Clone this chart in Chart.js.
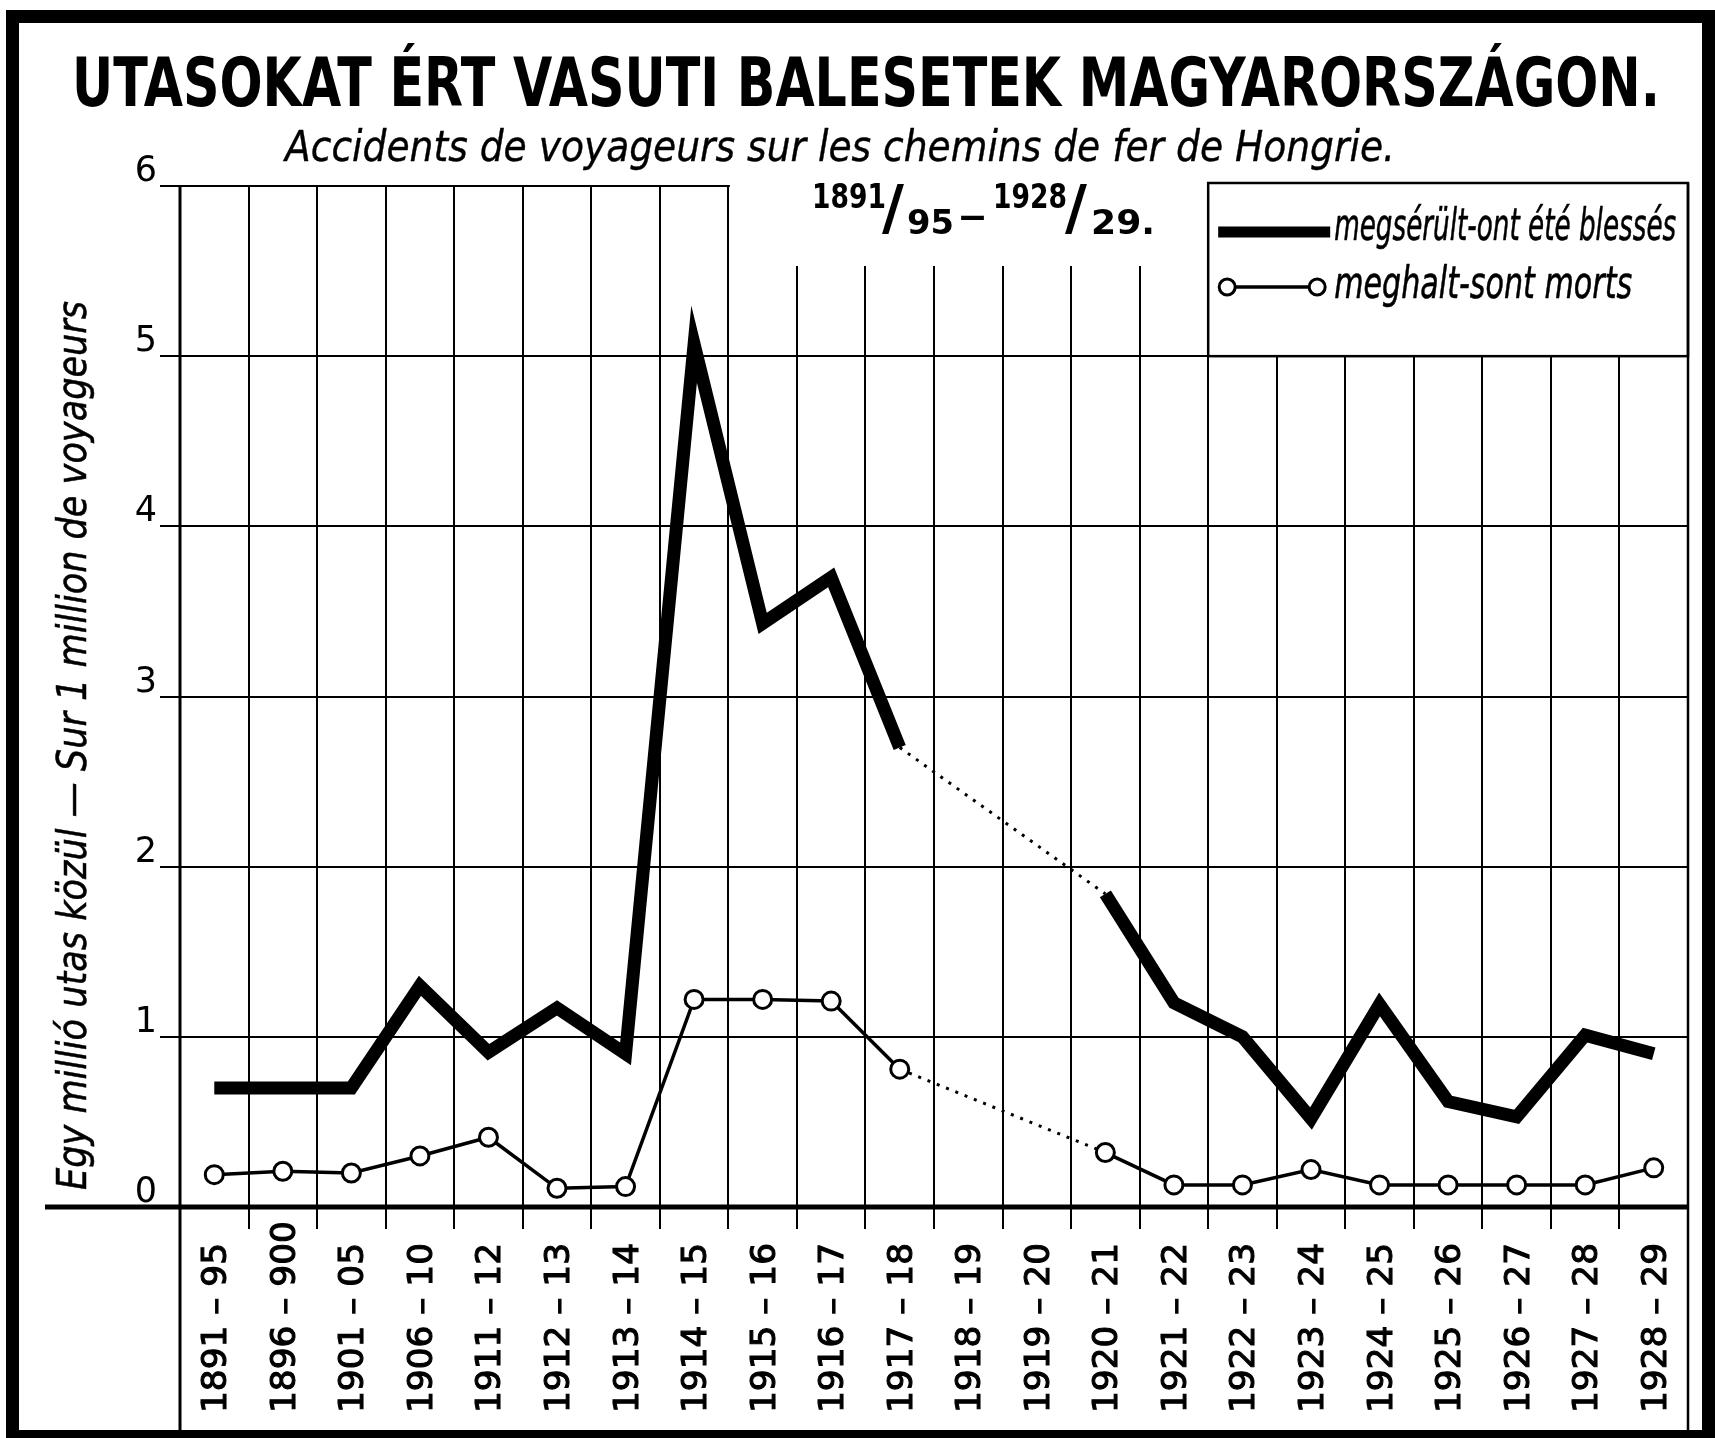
<!DOCTYPE html>
<html>
<head>
<meta charset="utf-8">
<script src="https://cdn.jsdelivr.net/npm/chart.js@4.4.1/dist/chart.umd.min.js"></script>
<style>
html,body{margin:0;padding:0;background:#fff;}
canvas{display:block;}
</style>
</head>
<body>
<canvas id="c" width="1715" height="1438"></canvas>
<script>
// ---- data ----
const categories = ["1891 – 95","1896 – 900","1901 – 05","1906 – 10","1911 – 12","1912 – 13","1913 – 14","1914 – 15","1915 – 16","1916 – 17","1917 – 18","1918 – 19","1919 – 20","1920 – 21","1921 – 22","1922 – 23","1923 – 24","1924 – 25","1925 – 26","1926 – 27","1927 – 28","1928 – 29"];
const injured = [0.70, 0.70, 0.70, 1.30, 0.91, 1.17, 0.90, 5.07, 3.43, 3.70, 2.70, null, null, 1.84, 1.20, 1.00, 0.52, 1.19, 0.62, 0.53, 1.01, 0.90];
const killed  = [0.19, 0.21, 0.20, 0.30, 0.41, 0.11, 0.12, 1.22, 1.22, 1.21, 0.81, null, null, 0.32, 0.13, 0.13, 0.22, 0.13, 0.13, 0.13, 0.13, 0.23];
const yTickValues = [0, 1, 2, 3, 4, 5, 6];
const seriesLabels = ["megsérült-ont été blessés", "meghalt-sont morts"];
const titleText = "UTASOKAT ÉRT VASUTI BALESETEK MAGYARORSZÁGON.";
const subtitleText = "Accidents de voyageurs sur les chemins de fer de Hongrie.";
const periodParts = ["1891", "/", "95", "–", "1928", "/", "29."];
const yTitleText = "Egy millió utas közül — Sur 1 million de voyageurs";

// ---- helpers ----
const INK = '#000';
function fitText(ctx, text, x, y, font, width, stroke) {
  ctx.save();
  ctx.font = font;
  ctx.textAlign = 'left';
  ctx.textBaseline = 'alphabetic';
  const w = ctx.measureText(text).width;
  const s = width ? width / w : 1;
  ctx.translate(x, y);
  ctx.scale(s, 1);
  ctx.fillStyle = INK;
  ctx.fillText(text, 0, 0);
  if (stroke) {
    ctx.strokeStyle = INK;
    ctx.lineWidth = stroke;
    ctx.lineJoin = 'round';
    ctx.strokeText(text, 0, 0);
  }
  ctx.restore();
}
function boundary(chart, k) {
  const x = chart.scales.x;
  const n = categories.length;
  const step = x.getPixelForValue(1) - x.getPixelForValue(0);
  if (k <= 0) return x.getPixelForValue(0) - step / 2;
  if (k >= n) return x.getPixelForValue(n - 1) + step / 2;
  return (x.getPixelForValue(k - 1) + x.getPixelForValue(k)) / 2;
}
const skipped = (ctx, v) => (ctx.p0.skip || ctx.p1.skip) ? v : undefined;

const decor = {
  id: 'decor',
  beforeDraw(chart) {
    const ctx = chart.ctx;
    ctx.save();
    ctx.fillStyle = '#fff';
    ctx.fillRect(0, 0, chart.width, chart.height);
    ctx.restore();
  },
  beforeDatasetsDraw(chart) {
    const {ctx, chartArea: ca, scales: {y}} = chart;
    ctx.save();
    // white area behind the period text
    const b8 = boundary(chart, 8), b15 = boundary(chart, 15);
    ctx.fillStyle = '#fff';
    ctx.fillRect(b8 + 1.5, ca.top - 8, b15 - b8 - 1.5, 88);
    // legend box
    const y5 = y.getPixelForValue(5);
    ctx.fillRect(b15, ca.top - 3, ca.right - b15, y5 - ca.top + 3);
    ctx.strokeStyle = INK;
    ctx.lineWidth = 2.5;
    ctx.strokeRect(b15, ca.top - 3, ca.right - b15, y5 - ca.top + 3);
    // axis line (extended to the left)
    const y0 = y.getPixelForValue(0);
    ctx.lineWidth = 5;
    ctx.beginPath(); ctx.moveTo(45, y0); ctx.lineTo(ca.right, y0); ctx.stroke();
    // left and right plot lines, down to the frame
    ctx.lineWidth = 3;
    ctx.beginPath(); ctx.moveTo(ca.left, ca.top - 1); ctx.lineTo(ca.left, 1432); ctx.stroke();
    ctx.lineWidth = 2.5;
    ctx.beginPath(); ctx.moveTo(ca.right, ca.top - 3); ctx.lineTo(ca.right, 1432); ctx.stroke();

    // legend contents
    const ds = chart.data.datasets;
    const lx0 = b15 + 10, lx1 = b15 + 122;
    ctx.fillStyle = INK;
    ctx.fillRect(lx0, 226.5, lx1 - lx0, ds[0].borderWidth - 2);
    fitText(ctx, ds[0].label, lx1 + 4, 240, 'italic 44px "DejaVu Sans"', 342, 0.6);
    ctx.lineWidth = ds[1].borderWidth;
    ctx.beginPath(); ctx.moveTo(lx0 + 9, 287); ctx.lineTo(lx1 - 13, 287); ctx.stroke();
    [lx0 + 9, lx1 - 13].forEach(cx => {
      ctx.beginPath(); ctx.arc(cx, 287, ds[1].pointRadius - 1, 0, Math.PI * 2);
      ctx.fillStyle = '#fff'; ctx.fill();
      ctx.lineWidth = ds[1].pointBorderWidth; ctx.stroke();
    });
    fitText(ctx, ds[1].label, lx1 + 4, 298, 'italic 44px "DejaVu Sans"', 298, 0.6);

    // period text 1891/95 – 1928/29.
    const f = 'bold 33px "DejaVu Sans"';
    const fs = 'bold 60px "DejaVu Sans"';
    fitText(ctx, periodParts[0], 812, 208, f, 74);
    fitText(ctx, periodParts[1], 882, 228, fs, 0);
    fitText(ctx, periodParts[2], 907, 234, f, 47);
    fitText(ctx, periodParts[3], 958, 227, f, 29);
    fitText(ctx, periodParts[4], 993, 208, f, 74);
    fitText(ctx, periodParts[5], 1065, 228, fs, 0);
    fitText(ctx, periodParts[6], 1091, 234, f, 64);
    ctx.restore();
  },
  afterDraw(chart) {
    const {ctx, scales: {x}} = chart;
    ctx.save();
    // outer frame
    ctx.strokeStyle = INK;
    ctx.lineWidth = 13;
    ctx.strokeRect(12.5, 16.5, 1696, 1420);
    // titles
    fitText(ctx, titleText, 72, 106, 'bold 67px "DejaVu Sans"', 1588);
    fitText(ctx, subtitleText, 285, 161, 'italic 43px "DejaVu Sans"', 1110, 0.4);
    // y axis title
    ctx.save();
    ctx.font = 'italic 40px "DejaVu Sans"';
    const wy = ctx.measureText(yTitleText).width;
    ctx.translate(86, 1190);
    ctx.rotate(-Math.PI / 2);
    ctx.scale(889 / wy, 1);
    ctx.fillStyle = INK;
    ctx.strokeStyle = INK;
    ctx.lineWidth = 0.5;
    ctx.textAlign = 'left';
    ctx.textBaseline = 'alphabetic';
    ctx.fillText(yTitleText, 0, 0);
    ctx.strokeText(yTitleText, 0, 0);
    ctx.restore();
    // x category labels (rotated, reading upward)
    ctx.font = '33px "DejaVu Sans"';
    const s = 170 / ctx.measureText(categories[0]).width;
    categories.forEach((lab, i) => {
      const px = x.getPixelForValue(i);
      ctx.save();
      ctx.translate(px + 12, 1413);
      ctx.rotate(-Math.PI / 2);
      ctx.scale(s, 1);
      ctx.fillStyle = INK;
      ctx.strokeStyle = INK;
      ctx.lineWidth = 1.1;
      ctx.textAlign = 'left';
      ctx.textBaseline = 'alphabetic';
      ctx.fillText(lab, 0, 0);
      ctx.strokeText(lab, 0, 0);
      ctx.restore();
    });
    ctx.restore();
  }
};

new Chart(document.getElementById('c'), {
  type: 'line',
  data: {
    labels: categories,
    datasets: [
      {
        label: seriesLabels[0],
        data: injured,
        borderColor: INK,
        borderWidth: 13,
        borderJoinStyle: 'miter',
        borderCapStyle: 'butt',
        pointRadius: 0,
        pointHoverRadius: 0,
        tension: 0,
        fill: false,
        spanGaps: true,
        order: 2,
        segment: {
          borderWidth: ctx => skipped(ctx, 3),
          borderDash: ctx => skipped(ctx, [3, 7])
        }
      },
      {
        label: seriesLabels[1],
        data: killed,
        borderColor: INK,
        borderWidth: 3.5,
        borderJoinStyle: 'miter',
        pointRadius: 9,
        pointHoverRadius: 9,
        pointBorderWidth: 3,
        pointBackgroundColor: '#fff',
        pointBorderColor: INK,
        tension: 0,
        fill: false,
        spanGaps: true,
        order: 1,
        segment: {
          borderWidth: ctx => skipped(ctx, 3),
          borderDash: ctx => skipped(ctx, [3, 7])
        }
      }
    ]
  },
  options: {
    responsive: false,
    animation: false,
    devicePixelRatio: 1,
    events: [],
    layout: { padding: { top: 186, left: 0, right: 27, bottom: 0 } },
    plugins: { legend: { display: false }, tooltip: { enabled: false }, title: { display: false } },
    scales: {
      x: {
        type: 'category',
        offset: true,
        grid: { offset: true, color: INK, lineWidth: 2, drawTicks: true, tickLength: 22, tickColor: INK },
        border: { display: false },
        ticks: { display: false, autoSkip: false },
        afterFit: s => { s.height = 231; }
      },
      y: {
        min: 0,
        max: 6,
        afterBuildTicks: s => { s.ticks = yTickValues.map(v => ({ value: v })); },
        grid: { color: INK, lineWidth: 2, drawTicks: true, tickLength: 20, tickColor: INK },
        border: { display: false },
        ticks: {
          color: INK,
          font: { family: 'DejaVu Sans', size: 35 },
          padding: 3,
          labelOffset: -14,
          callback: v => String(v)
        },
        afterFit: s => { s.width = 180; }
      }
    }
  },
  plugins: [decor]
});
</script>
</body>
</html>
